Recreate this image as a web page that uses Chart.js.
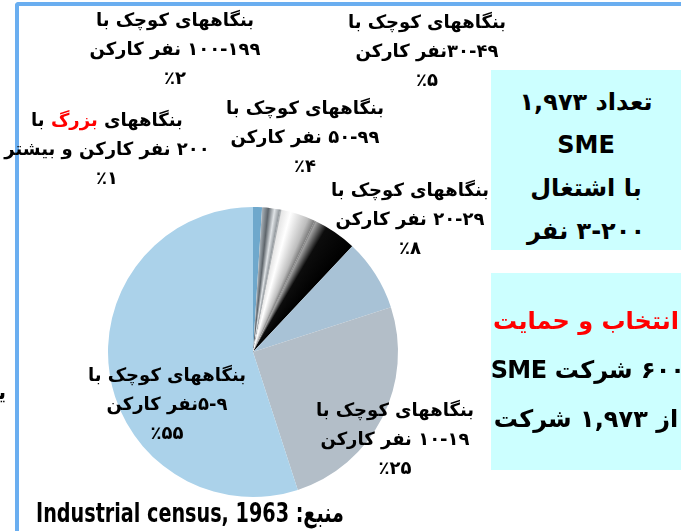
<!DOCTYPE html>
<html>
<head>
<meta charset="utf-8">
<script src="https://cdn.jsdelivr.net/npm/chart.js@4.4.1/dist/chart.umd.min.js"></script>
<style>
  html, body { margin: 0; padding: 0; background: #fff; }
  #wrap { position: relative; width: 681px; height: 531px; overflow: hidden; }
  #pie { position: absolute; left: 0; top: 0; }
  .frame { position: absolute; left: 15px; top: 2px; width: 700px; height: 600px;
    border-left: 4px solid #6aaef0; border-top: 4px solid #6aaef0; border-top-left-radius: 4px; }
  .lbl { position: absolute; width: 260px; margin-left: -130px; text-align: center; direction: rtl;
    font-family: "DejaVu Sans", sans-serif; font-weight: bold; font-size: 18px; line-height: 29px; color: #000; }
  .lbl div, .box div { white-space: nowrap; }
  .red { color: #ff0000; }
  .box { position: absolute; left: 491px; width: 190px; background: #ccffff; direction: rtl; text-align: center;
    font-family: "DejaVu Sans", sans-serif; font-weight: bold; font-size: 24px; color: #000; box-sizing: border-box; }
  .src { position: absolute; left: 36px; top: 497px; direction: rtl; white-space: nowrap; transform-origin: 0 0;
    font-family: "Liberation Sans Narrow", "DejaVu Sans Condensed", sans-serif; font-weight: bold; font-size: 27px; }
  .cut { position: absolute; left: -22px; top: 380px; direction: rtl;
    font-family: "DejaVu Sans", sans-serif; font-weight: bold; font-size: 20px; }
</style>
</head>
<body>
<div id="wrap">
  <canvas id="pie" width="681" height="531"></canvas>
  <div class="frame"></div>
  <div id="labels"></div>
  <div class="cut">یک</div>
  <div class="box" style="top:70px;height:180px;line-height:43px;padding-top:11px;">
    <div>تعداد ۱,۹۷۳</div><div>SME</div><div>با اشتغال</div><div>۳-۲۰۰ نفر</div>
  </div>
  <div class="box" style="top:273px;height:197px;line-height:49px;padding-top:24px;">
    <div class="red">انتخاب و حمایت</div>
    <div style="letter-spacing:-0.6px;margin-right:-4px;">۶۰۰ شرکت SME</div>
    <div>از ۱,۹۷۳ شرکت</div>
  </div>
  <div class="src" id="src">منبع: Industrial census, 1963</div>
</div>
<script>
// size groups, clockwise from 12 o'clock
const sizeGroups = [
  '۲۰۰ نفر کارکن و بیشتر',
  '۱۰۰-۱۹۹ نفر کارکن',
  '۵۰-۹۹ نفر کارکن',
  '۳۰-۴۹نفر کارکن',
  '۲۰-۲۹ نفر کارکن',
  '۱۰-۱۹ نفر کارکن',
  '۵-۹نفر کارکن',
]
const sizeTypes = ['بزرگ', 'کوچک', 'کوچک', 'کوچک', 'کوچک', 'کوچک', 'کوچک']
const shares = [1, 2, 4, 5, 8, 25, 55]
const flatColors = ['#6fa8cc', null, null, null, '#a8c2d6', '#b3bec8', '#abd2ea']

// where each label sits (center x, top)
const labelPos = [
  [107, 105], [175, 5], [305, 93], [427, 7], [410, 175], [395, 395], [167, 360],
]

const faDigits = n => String(n).replace(/\d/g, d => '۰۱۲۳۴۵۶۷۸۹'[d])

const labelsBox = document.getElementById('labels')
sizeGroups.forEach((g, i) => {
  const d = document.createElement('div')
  d.className = 'lbl'
  d.style.left = labelPos[i][0] + 'px'
  d.style.top = labelPos[i][1] + 'px'
  const kind = sizeTypes[i] === 'بزرگ' ? '<span class="red">بزرگ</span>' : sizeTypes[i]
  // one block per line so each line gets its own bidi paragraph
  d.innerHTML =
    '<div>بنگاههای ' + kind + ' با</div><div>' + g + '</div><div>٪' + faDigits(shares[i]) + '</div>'
  labelsBox.appendChild(d)
})

// squeeze the source line to the narrow width of the original
const src = document.getElementById('src')
src.style.transform = 'scaleX(' + (308 / src.getBoundingClientRect().width) + ')'

// metallic look for the three small middle slices
let metal
function metalFill(chart) {
  const area = chart.chartArea
  if (!area) return '#999'
  if (metal) return metal
  const cx = (area.left + area.right) / 2
  const cy = (area.top + area.bottom) / 2
  const g = chart.ctx.createConicGradient(-Math.PI / 2, cx, cy)
  const total = shares.reduce((a, b) => a + b, 0)
  const a1 = shares[0] / total
  const a2 = a1 + shares[1] / total
  const a3 = a2 + shares[2] / total
  const a4 = a3 + shares[3] / total
  g.addColorStop(a1, '#aab3ba')
  g.addColorStop(a1 + (a2 - a1) * 0.35, '#5e656b')
  g.addColorStop(a1 + (a2 - a1) * 0.7, '#dfe3e6')
  g.addColorStop(a2, '#8b9196')
  g.addColorStop(a2 + 0.002, '#e6e6e6')
  g.addColorStop(a2 + (a3 - a2) * 0.3, '#ffffff')
  g.addColorStop(a2 + (a3 - a2) * 0.8, '#bdbdbd')
  g.addColorStop(a3, '#7a7a7a')
  g.addColorStop(a3 + 0.002, '#a0a0a0')
  g.addColorStop(a3 + (a4 - a3) * 0.3, '#0c0c0c')
  g.addColorStop(a4, '#000000')
  metal = g
  return g
}

const ctxPie = document.getElementById('pie').getContext('2d')
const pieChart = new Chart(ctxPie, {
  type: 'pie',
  data: {
    labels: sizeGroups,
    datasets: [
      {
        data: shares,
        backgroundColor: c => flatColors[c.dataIndex] || metalFill(c.chart),
        borderWidth: 0,
      },
    ],
  },
  options: {
    responsive: false,
    animation: false,
    layout: { padding: { left: 108, right: 283, top: 207, bottom: 34 } },
    plugins: { legend: { display: false }, tooltip: { enabled: false } },
  },
})
</script>
</body>
</html>
